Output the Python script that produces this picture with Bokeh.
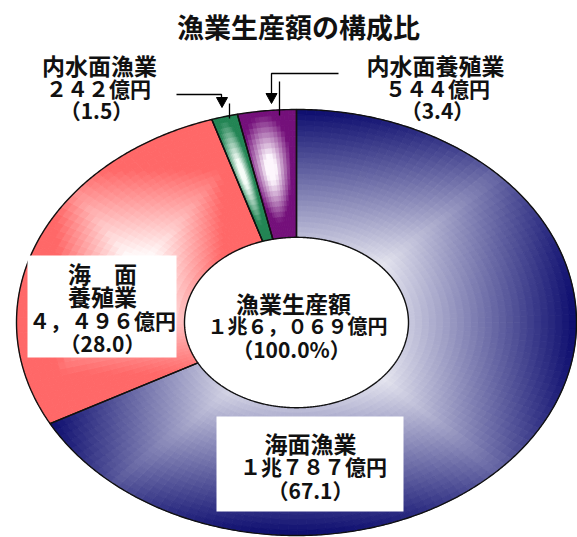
import numpy as np
from bokeh.plotting import figure
from bokeh.models import Range1d, ColumnDataSource
from bokeh.core.properties import value
from bokeh.embed import file_html
from bokeh.resources import INLINE

# ---------------- data ----------------
title = "漁業生産額の構成比"
categories = ["海面漁業", "海面養殖業", "内水面漁業", "内水面養殖業"]
amounts_oku = [10787, 4496, 242, 544]          # 億円
amount_labels = ["１兆７８７億円", "４，４９６億円", "２４２億円", "５４４億円"]
share_labels = ["（67.1）", "（28.0）", "（1.5）", "（3.4）"]
total_lines = ["漁業生産額", "１兆６，０６９億円", "（100.0%）"]

# ---------------- styles ----------------
dark_rgb = [(12, 12, 110), (255, 104, 104), (34, 132, 84), (116, 16, 122)]
light_rgb = [(234, 234, 242), (255, 248, 248), (246, 253, 248), (253, 246, 253)]
ramp = [(0.25, 0.75), (0.12, 0.55), (0.2, 0.65), (0.2, 0.65)]   # gradient start / length

CX, CY = 296.0, 322.0      # page-pixel layout of the donut
RX, RY = 280.0, 213.0
INNER = 0.40
FONT = value("Noto Sans CJK JP")


def pt(theta_deg, r):
    a = np.radians(theta_deg)
    return CX + r * RX * np.sin(a), CY - r * RY * np.cos(a)


def to_hex(c):
    return "#%02x%02x%02x" % tuple(int(round(v)) for v in c)


total = float(sum(amounts_oku))
cum = np.concatenate([[0.0], np.cumsum(np.array(amounts_oku) / total)]) * 360.0

cell_xs, cell_ys, cell_col = [], [], []
out_xs, out_ys = [], []
for i in range(len(amounts_oku)):
    a0, a1 = cum[i], cum[i + 1]
    span = a1 - a0
    box_mode = span > 45
    n_a = int(np.ceil(span / 2.0)) if box_mode else 14
    n_r = 24
    angs = np.linspace(a0, a1, n_a + 1)
    rads = np.linspace(INNER, 1.0, n_r + 1)
    s0, sl = ramp[i]

    # outline of the slice
    arc_o = np.linspace(a0, a1, max(20, int(span * 2)))
    ox, oy = pt(arc_o, 1.0)
    ix, iy = pt(arc_o[::-1], INNER)
    sx = list(ox) + list(ix)
    sy = list(oy) + list(iy)
    out_xs.append(sx)
    out_ys.append(sy)

    if box_mode:
        mx, my = (min(sx) + max(sx)) / 2, (min(sy) + max(sy)) / 2
        hx, hy = (max(sx) - min(sx)) / 2, (max(sy) - min(sy)) / 2
    dk = np.array(dark_rgb[i], float)
    lt = np.array(light_rgb[i], float)
    for j in range(n_a):
        for k in range(n_r):
            qa = [angs[j], angs[j + 1], angs[j + 1], angs[j]]
            qr = [rads[k], rads[k], rads[k + 1], rads[k + 1]]
            qx, qy = pt(np.array(qa), np.array(qr))
            am = (angs[j] + angs[j + 1]) / 2
            rm = (rads[k] + rads[k + 1]) / 2
            if box_mode:
                px, py = pt(am, rm)
                f = max(abs(px - mx) / hx, abs(py - my) / hy)
            else:
                u = (am - (a0 + a1) / 2 + span * 0.08) / (span / 2)
                v = (rm - (INNER + 1) / 2 - 0.03) / ((1 - INNER) / 2)
                f = np.sqrt(0.8 * u * u + v * v)
            t = np.clip((f - s0) / sl, 0, 1)
            cell_xs.append(list(qx))
            cell_ys.append(list(qy))
            cell_col.append(to_hex(lt + (dk - lt) * t))

# ---------------- figure ----------------
p = figure(width=577, height=537, x_range=Range1d(0, 577), y_range=Range1d(537, 0),
           x_axis_type=None, y_axis_type=None, output_backend="svg",
           toolbar_location=None, min_border=0)
p.grid.visible = False
p.outline_line_color = None
p.background_fill_color = "white"
p.border_fill_color = "white"

src = ColumnDataSource(dict(xs=cell_xs, ys=cell_ys, c=cell_col))
p.patches("xs", "ys", source=src, fill_color="c", line_color="c", line_width=0.9)
p.patches(out_xs, out_ys, fill_alpha=0, line_color="#111111", line_width=1.4)

# leader lines with arrows
p.line([176, 221, 221], [94, 94, 99], line_color="black", line_width=1.3)
p.patch([216, 227, 221.5], [97, 97, 107], fill_color="black", line_color="black")
p.line([229, 229], [103, 118], line_color="black", line_width=1.3)
p.line([338, 271, 271], [73, 73, 94], line_color="black", line_width=1.3)
p.patch([265.5, 276.5, 271], [93, 93, 103], fill_color="black", line_color="black")
p.line([279, 279], [81, 115], line_color="black", line_width=1.3)

# white label boxes
p.quad(left=[27, 216], right=[176, 403], top=[255, 416], bottom=[357, 511],
       fill_color="white", line_color=None)


def txt(x, y, s, size="21px"):
    p.text(x=[x], y=[y], text=[s], text_font=FONT, text_font_size=value(size),
           text_font_style="bold", text_align="center", text_baseline="middle",
           text_color="#111111")


txt(298, 26, title, "27px")

# 内水面漁業 (top left)
txt(99, 64, categories[2], "23px")
txt(98, 87, amount_labels[2])
txt(96, 109, share_labels[2])
# 内水面養殖業 (top right)
txt(435, 64, categories[3], "23px")
txt(437, 87, amount_labels[3])
txt(437, 109, share_labels[3])
# 海面養殖業 (box left)
txt(102, 272, categories[1][:1] + "　" + categories[1][1:2], "23px")
txt(102, 295, categories[1][2:], "23px")
txt(102, 319, amount_labels[1])
txt(102, 342, share_labels[1])
# 海面漁業 (box bottom)
txt(310, 442, categories[0], "23px")
txt(313, 465, amount_labels[0])
txt(310, 489, share_labels[0])
# center
txt(293, 302, total_lines[0], "23px")
txt(297, 325, total_lines[1], "20px")
txt(291, 348, total_lines[2])

open("out.html", "w").write(file_html(p, INLINE))
